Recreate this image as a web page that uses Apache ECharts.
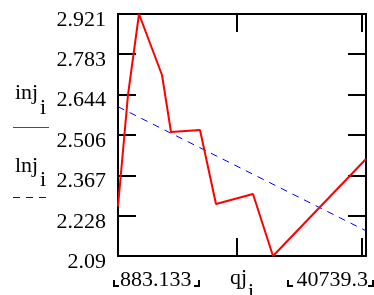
<!DOCTYPE html>
<html>
<head>
<meta charset="utf-8">
<script src="https://cdn.jsdelivr.net/npm/echarts@6/dist/echarts.min.js"></script>
<style>html,body{margin:0;padding:0;background:#fff}#c{width:374px;height:295px}</style>
</head>
<body>
<div id="c"></div>
<script>
// x values (qj_i) and series values
var qj = [883.133, 2490, 4258, 7954, 9401, 14061, 16632, 22578, 25793, 40739.3];
var inj = [2.26, 2.643, 2.921, 2.7115, 2.5158, 2.5227, 2.2685, 2.3029, 2.09, 2.4231];
var lnjX = [883.133, 40739.3];
var lnj = [2.6027, 2.1765];
var yTicks = [2.09, 2.228, 2.367, 2.506, 2.644, 2.783, 2.921];
var xTicks = [20000, 40000];
var xLabels = ['883.133', '40739.3'];

var FONT = 'Liberation Serif';
var chart = echarts.init(document.getElementById('c'), null, {renderer: 'canvas'});
var axLine = {show: true, lineStyle: {color: '#000', width: 2}};
var yMin = yTicks[0], yMax = yTicks[yTicks.length - 1];
var xMin = qj[0], xMax = qj[qj.length - 1];

function pairs(xs, ys) { return xs.map(function (x, i) { return [x, ys[i]]; }); }

var txt = function (text, x, y, align) {
  return {type: 'text', x: x, y: y, style: {text: text, fontFamily: FONT, fontSize: 22, fill: '#000', align: align || 'left', verticalAlign: 'middle'}};
};
var bracketL = function (x, y) { return {type: 'polyline', shape: {points: [[x, y - 6], [x, y], [x + 5, y]]}, style: {stroke: '#000', lineWidth: 2, fill: null}}; };
var bracketR = function (x, y) { return {type: 'polyline', shape: {points: [[x - 5, y], [x, y], [x, y - 6]]}, style: {stroke: '#000', lineWidth: 2, fill: null}}; };

chart.setOption({
  animation: false,
  grid: {left: 118, right: 8, top: 14, bottom: 39, containLabel: false},
  xAxis: [
    {type: 'value', position: 'bottom', min: xMin, max: xMax, axisLine: axLine,
     axisTick: {show: true, inside: true, length: 18, customValues: xTicks, lineStyle: {color: '#000', width: 2}},
     axisLabel: {show: false}, splitLine: {show: false}},
    {type: 'value', position: 'top', min: xMin, max: xMax, axisLine: axLine,
     axisTick: {show: true, inside: true, length: 18, customValues: xTicks, lineStyle: {color: '#000', width: 2}},
     axisLabel: {show: false}, splitLine: {show: false}}
  ],
  yAxis: [
    {type: 'value', position: 'left', min: yMin, max: yMax, axisLine: axLine,
     axisTick: {show: true, inside: true, length: 18, customValues: yTicks, lineStyle: {color: '#000', width: 2}},
     axisLabel: {show: true, customValues: yTicks, showMinLabel: true, showMaxLabel: true, margin: 12,
       fontFamily: FONT, fontSize: 22, color: '#000', verticalAlign: 'top', lineHeight: 12,
       formatter: function (v) { return String(v); }},
     splitLine: {show: false}},
    {type: 'value', position: 'right', min: yMin, max: yMax, axisLine: axLine,
     axisTick: {show: true, inside: true, length: 18, customValues: yTicks, lineStyle: {color: '#000', width: 2}},
     axisLabel: {show: false}, splitLine: {show: false}}
  ],
  series: [
    {type: 'line', name: 'inj', data: pairs(qj, inj), showSymbol: false, symbol: 'none', clip: false,
     lineStyle: {color: '#ff0000', width: 2}, z: 3},
    {type: 'line', name: 'lnj', data: pairs(lnjX, lnj), showSymbol: false, symbol: 'none', clip: false,
     lineStyle: {color: '#0000ff', width: 1, type: [7, 6]}, z: 2}
  ],
  graphic: [
    txt('inj', 15, 93.5), txt('i', 40, 108.5),
    {type: 'line', shape: {x1: 13, y1: 127.5, x2: 49, y2: 127.5}, style: {stroke: '#ff0000', lineWidth: 1}},
    txt('lnj', 15, 166.5), txt('i', 40, 180.5),
    {type: 'line', shape: {x1: 13, y1: 197.5, x2: 49, y2: 197.5}, style: {stroke: '#0000ff', lineWidth: 1, lineDash: [7, 6]}},
    txt(xLabels[0], 120, 280), bracketL(114, 286), bracketR(199, 286),
    txt('qj', 230, 278.5), txt('i', 248, 292.5),
    txt(xLabels[1], 368, 280, 'right'), bracketL(288, 286), bracketR(373, 286)
  ]
});
</script>
</body>
</html>
